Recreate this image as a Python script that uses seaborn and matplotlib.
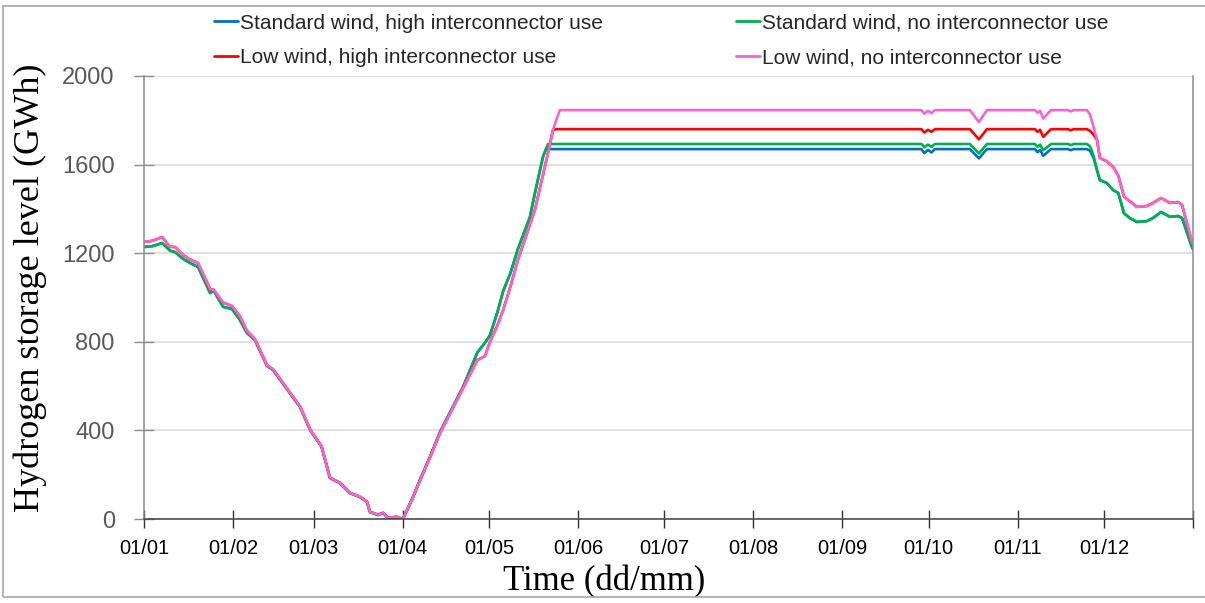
import pandas as pd
import seaborn as sns
import matplotlib.pyplot as plt
from matplotlib.patches import Rectangle

# day of year (2019) at which each reading was taken
days = [0, 3, 6.3, 9, 10.8, 13.6, 16, 18.8, 23, 24.2, 27.5, 30.6, 33.4, 35.8, 38.6,
        42.8, 44.9, 52.5, 54.3, 57.8, 61.8, 64.7, 68.2, 71.7, 75.2, 77.6, 78.6, 81.4,
        83.2, 84.9, 88, 90.1, 93.6, 96, 99.5, 103, 111, 116, 118.6, 120.4, 123, 125,
        127.5, 130, 134.3, 136, 138.8, 139.9, 140.6, 142.3, 143.4, 144.7,
        270.5, 271.5, 272.8, 274.0, 275.2, 287.4, 290.5, 293.3,
        310, 310.9, 311.8, 312.9, 315.6, 321.5, 322.5, 323.5,
        328.1, 329.2, 330.4, 331.6, 332.6, 335, 337.2, 339, 341, 343, 345.5, 349,
        351.1, 353.9, 357, 359.8, 361.2, 364.6, 365]

# storage levels, GWh
std_high = [1228, 1232, 1246, 1212, 1205, 1174, 1156, 1138, 1020, 1032, 958, 948, 898, 840, 808,
            691, 673, 537, 506, 402, 326, 185, 162, 117, 99, 77, 32, 18,
            27, 5, 9, 0, 99, 176, 280, 393, 596, 752, 795, 830, 935, 1030,
            1110, 1215, 1364, 1470, 1634, 1670, 1670, 1670, 1670, 1670,
            1670, 1652, 1666, 1655, 1670, 1670, 1628, 1670,
            1670, 1656, 1666, 1640, 1670, 1670, 1665, 1670,
            1670, 1662, 1630, 1575, 1530, 1517, 1485, 1472, 1380, 1359, 1341, 1345,
            1359, 1386, 1364, 1368, 1359, 1228, 1218]
std_no = [1228, 1232, 1246, 1212, 1205, 1174, 1156, 1138, 1020, 1032, 958, 948, 898, 840, 808,
          691, 673, 537, 506, 402, 326, 185, 162, 117, 99, 77, 32, 18,
          27, 5, 9, 0, 99, 176, 280, 393, 596, 752, 795, 830, 935, 1030,
          1110, 1215, 1364, 1470, 1634, 1672, 1693, 1693, 1693, 1693,
          1693, 1678, 1690, 1680, 1693, 1693, 1650, 1693,
          1693, 1680, 1690, 1665, 1693, 1693, 1688, 1693,
          1693, 1682, 1640, 1575, 1530, 1517, 1485, 1472, 1380, 1359, 1341, 1345,
          1359, 1386, 1364, 1368, 1359, 1228, 1218]
low_high = [1251, 1256, 1273, 1229, 1228, 1192, 1172, 1156, 1038, 1036, 977, 962, 915, 850, 812,
            694, 676, 540, 508, 404, 327, 187, 163, 118, 100, 78, 33, 19,
            28, 6, 10, 0, 99, 172, 278, 388, 590, 718, 735, 800, 875, 945,
            1050, 1165, 1330, 1395, 1552, 1614, 1653, 1756, 1760, 1760,
            1760, 1745, 1757, 1748, 1760, 1760, 1714, 1760,
            1760, 1748, 1757, 1725, 1760, 1760, 1755, 1760,
            1760, 1752, 1735, 1711, 1630, 1615, 1590, 1550, 1455, 1435, 1409, 1413,
            1427, 1449, 1427, 1431, 1418, 1252, 1240]
low_no = [1251, 1256, 1273, 1229, 1228, 1192, 1172, 1156, 1038, 1036, 977, 962, 915, 850, 812,
          694, 676, 540, 508, 404, 327, 187, 163, 118, 100, 78, 33, 19,
          28, 6, 10, 0, 99, 172, 278, 388, 590, 718, 735, 800, 875, 945,
          1050, 1165, 1330, 1395, 1552, 1614, 1653, 1756, 1800, 1846,
          1846, 1830, 1843, 1832, 1846, 1846, 1792, 1846,
          1846, 1834, 1843, 1808, 1846, 1846, 1840, 1846,
          1846, 1825, 1770, 1711, 1630, 1615, 1590, 1550, 1455, 1435, 1409, 1413,
          1427, 1449, 1427, 1431, 1418, 1252, 1240]

scenarios = ["Standard wind, high interconnector use", "Standard wind, no interconnector use",
             "Low wind, high interconnector use", "Low wind, no interconnector use"]
colors = ["#0070C0", "#00B050", "#FF0000", "#F564CF"]
y_ticks = [0, 400, 800, 1200, 1600, 2000]

start = pd.Timestamp("2019-01-01")
time = start + pd.to_timedelta(days, unit="D")
frames = []
for name, vals in zip(scenarios, [std_high, std_no, low_high, low_no]):
    assert len(vals) == len(days)
    frames.append(pd.DataFrame({"time": time, "storage": vals, "scenario": name}))
df = pd.concat(frames, ignore_index=True)

sns.set_theme(style="white")
plt.rcParams["font.family"] = ["Liberation Sans", "DejaVu Sans"]

fig = plt.figure(figsize=(12.05, 6.03), dpi=100)
ax = fig.add_axes([144 / 1205, 1 - 519 / 603, 1049 / 1205, 443 / 603])

sns.lineplot(data=df, x="time", y="storage", hue="scenario", hue_order=scenarios,
             palette=colors, linewidth=1.9, ax=ax, legend=True)

ax.set_ylim(0, 2000)
ax.set_yticks(y_ticks)
ax.set_xlim(start, pd.Timestamp("2020-01-01"))
month_ticks = pd.date_range("2019-01-01", "2020-01-01", freq="MS")
ax.set_xticks(month_ticks)
ax.set_xticklabels([t.strftime("%d/%m") for t in month_ticks[:-1]] + [""])

ax.grid(axis="y", color="#d9d9d9", linewidth=1.1)
ax.grid(axis="x", visible=False)
ax.spines["top"].set_visible(False)
ax.spines["left"].set_color("#8c8c8c")
ax.spines["right"].set_color("#8c8c8c")
ax.spines["bottom"].set_color("#404040")
for s in ax.spines.values():
    s.set_linewidth(1.1)

ax.tick_params(axis="x", direction="inout", length=13, width=1, color="#303030",
               labelsize=14.5, labelcolor="black", pad=8, bottom=True)
ax.tick_params(axis="y", direction="inout", length=14, width=1, color="#8c8c8c",
               labelsize=17, labelcolor="#595959", pad=14, left=True)

ax.set_xlabel("Time (dd/mm)", family="Liberation Serif", fontsize=25, color="black")
ax.set_ylabel("Hydrogen storage level (GWh)", family="Liberation Serif", fontsize=26, color="black")
ax.xaxis.set_label_coords(0.4385, -0.103)
ax.yaxis.set_label_coords(-0.092, 0.522)

handles, labels = ax.get_legend_handles_labels()
ax.get_legend().remove()
order = [0, 2, 1, 3]
leg = fig.legend([handles[i] for i in order], [labels[i] for i in order], ncol=2,
                 loc="center", bbox_to_anchor=(0.549, 0.933), frameon=False,
                 handlelength=1.15, handletextpad=0.1, columnspacing=6.4,
                 labelspacing=0.74, fontsize=15)
for h in leg.legend_handles:
    h.set_linewidth(2)

fig.add_artist(Rectangle((0.0025, 0.01), 1.0, 0.98, transform=fig.transFigure,
                         fill=False, edgecolor="#a6a6a6", linewidth=1.2))

fig.savefig("out.png", dpi=100)
